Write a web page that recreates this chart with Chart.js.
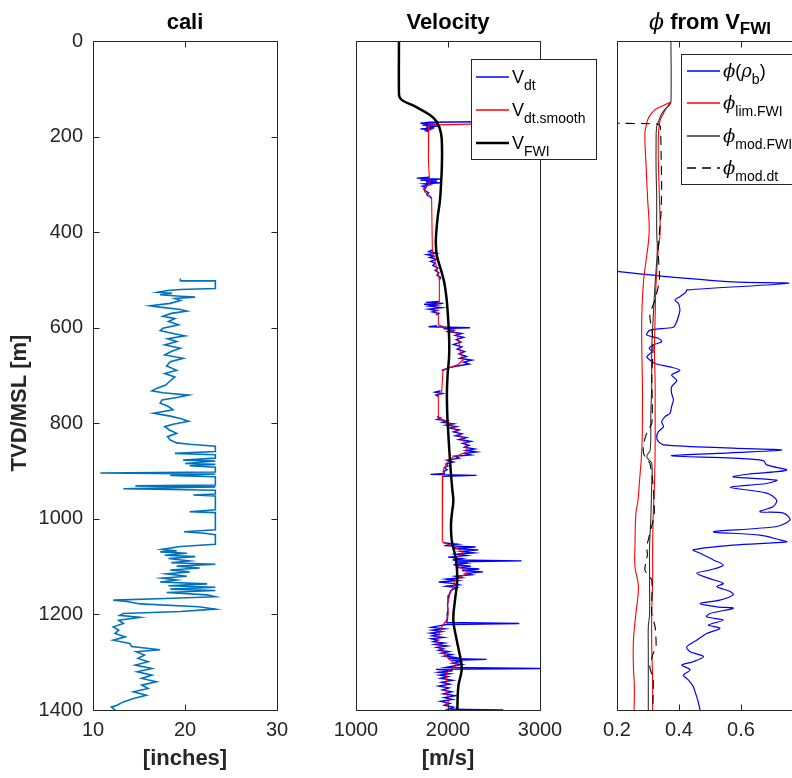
<!DOCTYPE html>
<html>
<head>
<meta charset="utf-8">
<script src="https://cdn.jsdelivr.net/npm/chart.js@4"></script>
<style>
  html, body { margin: 0; padding: 0; overflow: hidden; background: #fff; width: 792px; height: 778px; }
  canvas { position: absolute; top: 0; }
  #c1 { left: 0; }
  #c2 { left: 300px; }
  #c3 { left: 580px; }
</style>
</head>
<body>
<canvas id="c1" width="300" height="778"></canvas>
<canvas id="c2" width="300" height="778"></canvas>
<canvas id="c3" width="260" height="778"></canvas>
<script>
// ---- tick values ----
const depthTicks = [0, 200, 400, 600, 800, 1000, 1200, 1400];
const caliTicks = [10, 20, 30];
const velTicks = [1000, 2000, 3000];
const phiTicks = [0.2, 0.4, 0.6];

// ---- cali [inches] vs depth [m] ----
const caliDepth = [
  497, 502, 502, 518, 520, 522, 526, 528, 531, 534, 536, 539, 543, 549, 554, 557, 562, 565, 570, 576,
  581, 587, 594, 601, 606, 612, 617, 623, 629, 636, 643, 650, 657, 664, 671, 680, 689, 696, 703, 711,
  720, 727, 732, 736, 741, 746, 751, 758, 765, 772, 779, 785, 790, 796, 802, 807, 814, 821, 828, 835,
  841, 844, 848, 859, 863, 866, 873, 877, 879, 884, 886, 889, 892, 902, 904, 906, 909, 912, 929, 931,
  933, 937, 940, 948, 950, 952, 981, 985, 987, 1023, 1027, 1030, 1033, 1053, 1058, 1064, 1067, 1069, 1072, 1076,
  1079, 1083, 1088, 1092, 1095, 1099, 1103, 1107, 1111, 1115, 1120, 1124, 1128, 1132, 1136, 1140, 1143, 1147, 1150, 1154,
  1159, 1163, 1166, 1170, 1173, 1178, 1184, 1189, 1194, 1198, 1202, 1206, 1212, 1219, 1226, 1233, 1240, 1247, 1254, 1261,
  1267, 1274, 1278, 1285, 1292, 1299, 1306, 1313, 1320, 1327, 1334, 1341, 1348, 1355, 1362, 1369, 1376, 1383, 1390, 1394,
  1400
];
const caliValue = [
  19.5, 19.5, 23.3, 23.3, 19.5, 18.1, 17.0, 18.6, 17.3, 19.5, 21.1, 18.9, 19.5, 18.4, 16.2, 17.3, 19.5, 20.2, 18.5, 17.6,
  18.9, 18.2, 19.3, 17.6, 17.3, 18.7, 20.0, 18.1, 19.1, 17.8, 19.5, 18.5, 17.8, 19.8, 18.4, 18.0, 19.1, 17.8, 18.9, 18.4,
  17.9, 16.9, 16.4, 17.6, 20.4, 19.1, 17.5, 17.3, 18.2, 18.7, 16.6, 18.4, 19.5, 20.4, 18.7, 17.8, 18.3, 19.1, 18.1, 18.4,
  19.1, 20.5, 23.3, 23.3, 18.9, 23.3, 23.3, 19.8, 23.3, 20.0, 23.3, 20.5, 23.3, 23.3, 10.8, 23.3, 18.4, 23.3, 23.3, 14.6,
  23.3, 13.3, 23.3, 23.3, 20.9, 23.3, 23.3, 20.5, 23.3, 23.3, 19.9, 22.1, 23.3, 23.3, 19.5, 17.5, 19.1, 17.3, 20.2, 17.8,
  21.1, 18.2, 20.5, 18.5, 23.3, 19.1, 21.6, 18.4, 20.5, 18.0, 20.2, 17.5, 19.1, 17.3, 22.4, 18.2, 23.3, 18.4, 23.3, 18.0,
  22.4, 23.3, 18.7, 12.2, 13.7, 15.1, 21.5, 23.3, 19.5, 13.3, 12.9, 15.1, 12.8, 13.3, 12.2, 12.8, 12.4, 13.5, 12.2, 14.0,
  14.2, 17.3, 14.7, 15.6, 14.9, 16.0, 14.6, 16.4, 14.8, 16.4, 15.3, 16.9, 15.3, 16.0, 14.4, 15.8, 14.4, 13.3, 12.6, 12.0,
  12.4
];

// ---- velocity [m/s] vs depth [m] ----
const vdtDepth = [
  168, 170, 172, 174, 176, 178, 180, 182, 184, 186, 188, 190, 191,
  285, 287, 289, 291, 293, 295, 297, 299, 301, 304, 307, 310, 314, 318, 322, 326, 330, 331,
  437, 441, 444, 447, 450, 453, 457, 461, 465, 470, 475, 480, 485, 490, 495, 500, 501,
  545, 547, 549, 551, 553, 555, 558, 561, 564, 567, 570, 573, 574,
  596, 598, 600, 602, 605, 608, 612, 616, 620, 625, 630, 635, 640, 645, 650, 655, 660, 664, 668, 672, 676, 680, 684, 688, 690, 691,
  732, 735, 738, 741, 744, 745,
  786, 789, 792, 795, 798, 801, 804, 807, 810, 814, 818, 822, 826, 830, 834, 838, 842, 846, 850, 854,
  857, 860, 863, 866, 869, 873, 877, 881, 885, 889, 893, 897, 901, 905, 907, 909, 911, 913, 914,
  1050, 1053, 1056, 1059, 1062, 1065, 1068, 1071, 1074, 1077, 1080, 1083, 1086, 1088, 1090, 1093, 1096, 1099, 1102, 1105,
  1108, 1111, 1114, 1117, 1120, 1123, 1126, 1129, 1132, 1135, 1138, 1141, 1144, 1147, 1150, 1160, 1170, 1180, 1190, 1200,
  1210, 1217, 1219, 1221, 1224, 1227, 1230, 1233, 1236, 1239, 1242, 1245, 1248, 1251, 1254, 1257, 1260, 1263, 1266, 1269,
  1272, 1275, 1278, 1281, 1284, 1287, 1290, 1292, 1294, 1296, 1299, 1302, 1305, 1308, 1311, 1313, 1315, 1318, 1321, 1324,
  1327, 1330, 1334, 1338, 1342, 1346, 1350, 1354, 1358, 1362, 1366, 1370, 1374, 1378, 1382, 1386, 1390, 1394, 1398, 1399,
  1400
];
const vdtValue = [
  2950, 1800, 1700, 1880, 1720, 1900, 1760, 1850, 1700, 1800, 1760, 1790, null,
  1800, 1660, 1930, 1700, 1880, 1760, 1920, 1740, 1800, 1720, 1760, 1735, 1760, 1790, 1770, 1810, 1822, null,
  1830, 1790, 1870, 1770, 1850, 1800, 1880, 1810, 1860, 1835, 1890, 1860, 1900, 1880, 1920, 1906, null,
  1906, 1760, 1950, 1740, 1870, 1800, 1930, 1790, 1880, 1830, 1900, 1870, null,
  1880, 1790, 2240, 1950, 2060, 2000, 2150, 2080, 2170, 2090, 2140, 2060, 2150, 2100, 2180, 2120, 2200, 2130, 2260, 2170, 2230, 2100, 2000, 1950, 1931, null,
  1920, 1860, 1940, 1870, 1900, null,
  1880, 1920, 1880, 1990, 1940, 2060, 1980, 2090, 2020, 2120, 2060, 2150, 2080, 2200, 2120, 2250, 2160, 2230, 2180, 2290,
  2200, 2310, 2180, 2250, 2070, 2120, 1990, 2060, 1980, 2000, 1960, 1990, 1950, 1960, 1810, 2310, 1950, 1940, null,
  1950, 2100, 1960, 2300, 2050, 2330, 2150, 2280, 2090, 2200, 2000, 2150, 2050, 2800, 2080, 2200, 2060, 2250, 2100, 2340,
  2150, 2380, 2200, 2260, 2080, 2150, 1980, 2100, 1900, 2050, 2120, 1980, 2100, 2060, 2030, 2010, 2000, 1995, 2000, 1990,
  1995, 1985, 2775, 1980, 1900, 1820, 1960, 1830, 1930, 1810, 1900, 1830, 1950, 1820, 1890, 1840, 1960, 1860, 1990, 1880,
  1950, 1900, 2010, 1930, 2040, 1960, 2080, 2000, 2420, 2060, 2130, 2050, 2150, 2060, 1980, 3000, 1870, 2050, 1900, 2020,
  1910, 2000, 1920, 2050, 1930, 2020, 1900, 2010, 1940, 2040, 1950, 2080, 1960, 2050, 1920, 2020, 1960, 2060, 2000, 2200,
  2600
];
const vsmDepth = [
  173, 176, 200, 250, 287, 292, 300, 308, 315, 325, 330, 437, 445, 460, 478, 490, 500, 545, 552, 560,
  568, 573, 594, 600, 605, 612, 632, 652, 667, 677, 685, 690, 737, 740, 786, 790, 800, 812, 825, 840,
  859, 866, 870, 884, 891, 898, 912, 918, 1048, 1055, 1065, 1072, 1083, 1100, 1107, 1114, 1121, 1128, 1142, 1156,
  1170, 1184, 1198, 1212, 1226, 1240, 1253, 1267, 1281, 1295, 1306, 1313, 1323, 1337, 1351, 1365, 1379, 1386, 1400
];
const vsmValue = [
  2450, 1790, 1785, 1790, 1797, 1805, 1790, 1752, 1745, 1800, 1822, 1830, 1835, 1860, 1880, 1895, 1906, 1906, 1880, 1858,
  1870, 1895, 1895, 1985, 2030, 2094, 2120, 2135, 2166, 2110, 1995, 1945, 1931, 1895, 1895, 1920, 2022, 2076, 2130, 2180,
  2214, 2130, 2058, 1985, 1967, 1949, 1942, 1938, 1938, 2022, 2130, 2166, 2076, 2112, 2185, 2221, 2130, 2076, 2058, 2022,
  2004, 1993, 2004, 1985, 1931, 1906, 1877, 1913, 1949, 2022, 2094, 2040, 1978, 1985, 1967, 1985, 2022, 1978, 2022
];
const vfwiDepth = [
  0, 110, 118, 125, 137, 155, 169, 193, 228, 270, 300, 333, 368, 402, 425, 450, 480, 506, 540, 577,
  620, 660, 700, 740, 786, 820, 856, 900, 935, 962, 985, 1010, 1044, 1086, 1128, 1170, 1212, 1253, 1295, 1316,
  1351, 1400
];
const vfwiValue = [
  1467, 1467, 1475, 1510, 1641, 1804, 1877, 1924, 1935, 1932, 1924, 1913, 1888, 1872, 1868, 1880, 1925, 1960, 1985, 2000,
  2012, 2012, 1995, 1988, 1993, 2003, 2014, 2030, 2045, 2058, 2045, 2033, 2040, 2087, 2101, 2076, 2058, 2094, 2138, 2149,
  2112, 2101
];

// ---- porosity vs depth [m] ----
const phiRhoDepth = [
  480, 493, 504, 507, 521, 525, 535, 542, 549, 563, 577, 591, 599, 605, 615, 622, 629, 636, 643, 650,
  661, 668, 675, 682, 689, 699, 710, 724, 737, 751, 765, 779, 786, 797, 807, 818, 828, 838, 845, 852,
  856, 863, 868, 873, 878, 887, 898, 906, 912, 919, 926, 934, 946, 961, 974, 985, 988, 1002, 1016, 1027,
  1034, 1044, 1048, 1055, 1065, 1072, 1086, 1097, 1107, 1114, 1125, 1135, 1142, 1152, 1159, 1170, 1177, 1184, 1187, 1198,
  1205, 1212, 1222, 1229, 1240, 1254, 1268, 1278, 1288, 1299, 1306, 1316, 1327, 1337, 1351, 1362, 1372, 1383, 1400
];
const phiRhoValue = [
  0.17, 0.36, 0.575, 0.753, 0.425, 0.423, 0.403, 0.387, 0.398, 0.403, 0.398, 0.390, 0.382, 0.307, 0.296, 0.333, 0.344, 0.317, 0.304, 0.312,
  0.296, 0.307, 0.323, 0.371, 0.403, 0.376, 0.393, 0.376, 0.376, 0.382, 0.376, 0.371, 0.355, 0.344, 0.350, 0.333, 0.328, 0.333, 0.350, 0.575,
  0.731, 0.522, 0.376, 0.575, 0.672, 0.683, 0.747, 0.629, 0.575, 0.715, 0.683, 0.565, 0.683, 0.715, 0.704, 0.661, 0.737, 0.758, 0.715, 0.511,
  0.661, 0.726, 0.747, 0.575, 0.446, 0.468, 0.511, 0.543, 0.500, 0.457, 0.500, 0.543, 0.522, 0.565, 0.575, 0.532, 0.468, 0.522, 0.575, 0.500,
  0.489, 0.543, 0.495, 0.532, 0.489, 0.457, 0.425, 0.436, 0.479, 0.446, 0.409, 0.436, 0.414, 0.430, 0.446, 0.452, 0.457, 0.462, 0.468
];
const phiLimLoDepth = [128, 135, 143, 151, 163, 172, 193, 263, 333, 389, 423, 458, 507, 577, 647, 716, 786, 856, 926, 960, 988, 1058, 1100, 1142, 1198, 1254, 1310, 1351, 1400];
const phiLimLoValue = [0.372, 0.350, 0.325, 0.312, 0.300, 0.296, 0.290, 0.294, 0.299, 0.304, 0.301, 0.294, 0.285, 0.280, 0.280, 0.282, 0.282, 0.280, 0.272, 0.268, 0.261, 0.258, 0.258, 0.269, 0.261, 0.253, 0.253, 0.256, 0.255];
const phiLimHiDepth = [128, 138, 151, 172, 228, 333, 403, 437, 507, 577, 647, 716, 786, 856, 926, 988, 1058, 1128, 1198, 1268, 1337, 1400];
const phiLimHiValue = [0.372, 0.362, 0.350, 0.337, 0.333, 0.337, 0.339, 0.333, 0.326, 0.323, 0.321, 0.323, 0.323, 0.323, 0.321, 0.317, 0.315, 0.315, 0.312, 0.312, 0.315, 0.315];
const phiModFwiDepth = [0, 128, 135, 145, 155, 165, 179, 220, 263, 330, 400, 437, 507, 577, 647, 716, 786, 856, 870, 884, 926, 1000, 1058, 1100, 1140, 1200, 1226, 1270, 1340, 1400];
const phiModFwiValue = [0.374, 0.374, 0.368, 0.352, 0.342, 0.336, 0.328, 0.326, 0.326, 0.328, 0.328, 0.330, 0.323, 0.317, 0.312, 0.312, 0.309, 0.307, 0.296, 0.312, 0.312, 0.309, 0.305, 0.305, 0.305, 0.305, 0.301, 0.301, 0.301, 0.301];
const phiModDtDepth = [172, 174, 180, 230, 300, 360, 437, 500, 540, 575, 610, 650, 700, 760, 800, 820, 845, 860, 870, 884, 926, 990, 1058, 1075, 1107, 1128, 1198, 1226, 1268, 1281, 1310, 1337, 1400];
const phiModDtValue = [0.18, 0.333, 0.340, 0.342, 0.344, 0.342, 0.333, 0.337, 0.323, 0.306, 0.314, 0.316, 0.312, 0.314, 0.312, 0.296, 0.285, 0.285, 0.290, 0.306, 0.316, 0.320, 0.296, 0.298, 0.290, 0.312, 0.312, 0.323, 0.326, 0.317, 0.306, 0.317, 0.315];

// ---- look ----
const FONT = '"Liberation Sans", Arial, Helvetica, sans-serif';
const GREEK = '"DejaVu Serif", serif';
const INK = '#262626';
const CALI = '#0072bd';
const BLUE = '#0000ff';
const RED = '#ff0000';
const GREY = '#333333';

Chart.defaults.font.family = FONT;
Chart.defaults.color = INK;
Chart.defaults.animation = false;

const pts = (depths, values) => depths.map((d, i) => ({ x: values[i], y: d }));

const sub = (t, size = 14, dy = 7) => ({ text: t, size: size, dy: dy });
const big = (t) => ({ text: t, size: 18 });
const phi = () => ({ text: 'ϕ', size: 18, italic: true, greek: true });

// titles, y label and legends, in canvas pixels
const decor = {
  c1: {
    yTicks: true, titleY: 29, title: [{ text: 'cali', size: 22, bold: true }],
    yLabel: { text: 'TVD/MSL [m]', x: 20, y: 403 }
  },
  c2: {
    titleY: 29,
    title: [{ text: 'Velocity', size: 22, bold: true }],
    legend: {
      left: 171, top: 59, width: 125, height: 100, x0: 176, x1: 209, tx: 212,
      rows: [
        { y: 77, color: BLUE, width: 1.3, runs: [big('V'), sub('dt')] },
        { y: 110, color: RED, width: 1.3, runs: [big('V'), sub('dt.smooth')] },
        { y: 143, color: '#000', width: 2.5, runs: [big('V'), sub('FWI')] }
      ]
    }
  },
  c3: {
    titleY: 29,
    title: [
      { text: 'ϕ', size: 22, italic: true, greek: true },
      { text: ' from V', size: 22, bold: true },
      { text: 'FWI', size: 17, bold: true, dy: 5 }
    ],
    legend: {
      left: 101, top: 54, width: 140, height: 130, x0: 107, x1: 140, tx: 143,
      rows: [
        { y: 71, color: BLUE, width: 1.3, runs: [phi(), big('('), { text: 'ρ', size: 18, italic: true, greek: true }, sub('b'), big(')')] },
        { y: 103, color: RED, width: 1.3, runs: [phi(), sub('lim.FWI')] },
        { y: 136, color: GREY, width: 1.3, runs: [phi(), sub('mod.FWI')] },
        { y: 168, color: '#000', width: 1.3, dash: [9, 6], runs: [phi(), sub('mod.dt')] }
      ]
    }
  }
};

function runFont(r) {
  return (r.italic ? 'italic ' : '') + (r.bold ? 'bold ' : '') + r.size + 'px ' + (r.greek ? GREEK : FONT);
}

function drawRuns(ctx, runs, x, y, center) {
  const widths = runs.map(r => { ctx.font = runFont(r); return ctx.measureText(r.text).width; });
  let cx = center ? x - widths.reduce((s, w) => s + w, 0) / 2 : x;
  runs.forEach((r, i) => {
    ctx.font = runFont(r);
    ctx.fillText(r.text, cx, y + (r.dy || 0));
    cx += widths[i];
  });
}

// MATLAB-style box, inward ticks, title, y label and legend
const panelDecor = {
  id: 'panelDecor',
  afterDraw(chart) {
    const spec = decor[chart.canvas.id];
    const { ctx, chartArea: a, scales } = chart;
    const L = Math.round(a.left) + 0.5, T = Math.round(a.top) + 0.5;
    const R = Math.round(a.right) + 0.5, B = Math.round(a.bottom) + 0.5;
    ctx.save();
    ctx.strokeStyle = INK;
    ctx.lineWidth = 1;
    ctx.beginPath();
    ctx.rect(L, T, R - L, B - T);
    scales.x.ticks.forEach(t => {
      const px = Math.round(scales.x.getPixelForValue(t.value)) + 0.5;
      ctx.moveTo(px, T); ctx.lineTo(px, T + 6);
      ctx.moveTo(px, B); ctx.lineTo(px, B - 6);
    });
    if (spec.yTicks) {
      scales.y.ticks.forEach(t => {
        const py = Math.round(scales.y.getPixelForValue(t.value)) + 0.5;
        ctx.moveTo(L, py); ctx.lineTo(L + 6, py);
        ctx.moveTo(R, py); ctx.lineTo(R - 6, py);
      });
    }
    ctx.stroke();

    ctx.fillStyle = '#000';
    ctx.textBaseline = 'alphabetic';
    ctx.textAlign = 'left';
    drawRuns(ctx, spec.title, (a.left + a.right) / 2, spec.titleY, true);

    if (spec.yLabel) {
      ctx.save();
      ctx.translate(spec.yLabel.x, spec.yLabel.y);
      ctx.rotate(-Math.PI / 2);
      ctx.font = 'bold 22px ' + FONT;
      ctx.fillStyle = INK;
      ctx.textAlign = 'center';
      ctx.textBaseline = 'middle';
      ctx.fillText(spec.yLabel.text, 0, 0);
      ctx.restore();
    }

    const lg = spec.legend;
    if (lg) {
      ctx.fillStyle = '#fff';
      ctx.fillRect(lg.left, lg.top, lg.width, lg.height);
      ctx.strokeStyle = INK;
      ctx.lineWidth = 1;
      ctx.strokeRect(lg.left + 0.5, lg.top + 0.5, lg.width, lg.height);
      lg.rows.forEach(r => {
        ctx.beginPath();
        ctx.strokeStyle = r.color;
        ctx.lineWidth = r.width;
        ctx.setLineDash(r.dash || []);
        ctx.moveTo(lg.x0, r.y);
        ctx.lineTo(lg.x1, r.y);
        ctx.stroke();
        ctx.setLineDash([]);
        ctx.fillStyle = '#000';
        drawRuns(ctx, r.runs, lg.tx, r.y + 6, false);
      });
    }
    ctx.restore();
  }
};

const line = (data, color, width, extra) => Object.assign({
  data: data, showLine: true, borderColor: color, backgroundColor: color,
  borderWidth: width, pointRadius: 0, tension: 0
}, extra || {});

const xAxis = (min, max, tickList, label) => ({
  type: 'linear', position: 'bottom', min: min, max: max,
  afterBuildTicks: s => { s.ticks = tickList.map(v => ({ value: v })); },
  afterFit: s => { s.height = 68; },
  grid: { display: false, drawTicks: false },
  border: { display: false },
  ticks: { autoSkip: false, maxRotation: 0, padding: 8, font: { size: 20 }, color: INK, callback: v => String(v) },
  title: { display: !!label, text: label || '', font: { size: 22, weight: 'bold' }, color: INK, padding: { top: 0, bottom: 6 } }
});

const depthAxis = (show) => {
  const axis = {
    type: 'linear', reverse: true, min: 0, max: 1400, display: show,
    afterBuildTicks: s => { s.ticks = depthTicks.map(v => ({ value: v })); },
    grid: { display: false, drawTicks: false },
    border: { display: false },
    ticks: { autoSkip: false, padding: 10, font: { size: 20 }, color: INK, callback: v => String(v) }
  };
  if (show) axis.afterFit = s => { s.width = 93; };
  return axis;
};

const baseOptions = (padding, x, y) => ({
  responsive: false,
  events: [],
  layout: { padding: padding },
  plugins: { legend: { display: false }, tooltip: { enabled: false } },
  scales: { x: x, y: y }
});

new Chart(document.getElementById('c1'), {
  type: 'scatter',
  data: { datasets: [line(pts(caliDepth, caliValue), CALI, 1.6)] },
  options: baseOptions({ top: 41, right: 23, bottom: 0, left: 0 }, xAxis(10, 30, caliTicks, '[inches]'), depthAxis(true)),
  plugins: [panelDecor]
});

new Chart(document.getElementById('c2'), {
  type: 'scatter',
  data: {
    datasets: [
      line(pts(vfwiDepth, vfwiValue), '#000', 2.5, { tension: 0.4 }),
      line(pts(vsmDepth, vsmValue), RED, 1.1),
      line(pts(vdtDepth, vdtValue), BLUE, 1.4)
    ]
  },
  options: baseOptions({ top: 41, right: 60, bottom: 0, left: 56 }, xAxis(1000, 3000, velTicks, '[m/s]'), depthAxis(false)),
  plugins: [panelDecor]
});

new Chart(document.getElementById('c3'), {
  type: 'scatter',
  data: {
    datasets: [
      line(pts(phiModDtDepth, phiModDtValue), '#000', 1.1, { borderDash: [9, 6], tension: 0.2 }),
      line(pts(phiModFwiDepth, phiModFwiValue), GREY, 1.1, { tension: 0.4 }),
      line(pts(phiLimHiDepth, phiLimHiValue), RED, 1.1, { tension: 0.4 }),
      line(pts(phiLimLoDepth, phiLimLoValue), RED, 1.1, { tension: 0.4 }),
      line(pts(phiRhoDepth, phiRhoValue), BLUE, 1.2, { tension: 0.3 })
    ]
  },
  options: baseOptions({ top: 41, right: 37, bottom: 0, left: 37 }, xAxis(0.2, 0.8, phiTicks, ''), depthAxis(false)),
  plugins: [panelDecor]
});
</script>
</body>
</html>
